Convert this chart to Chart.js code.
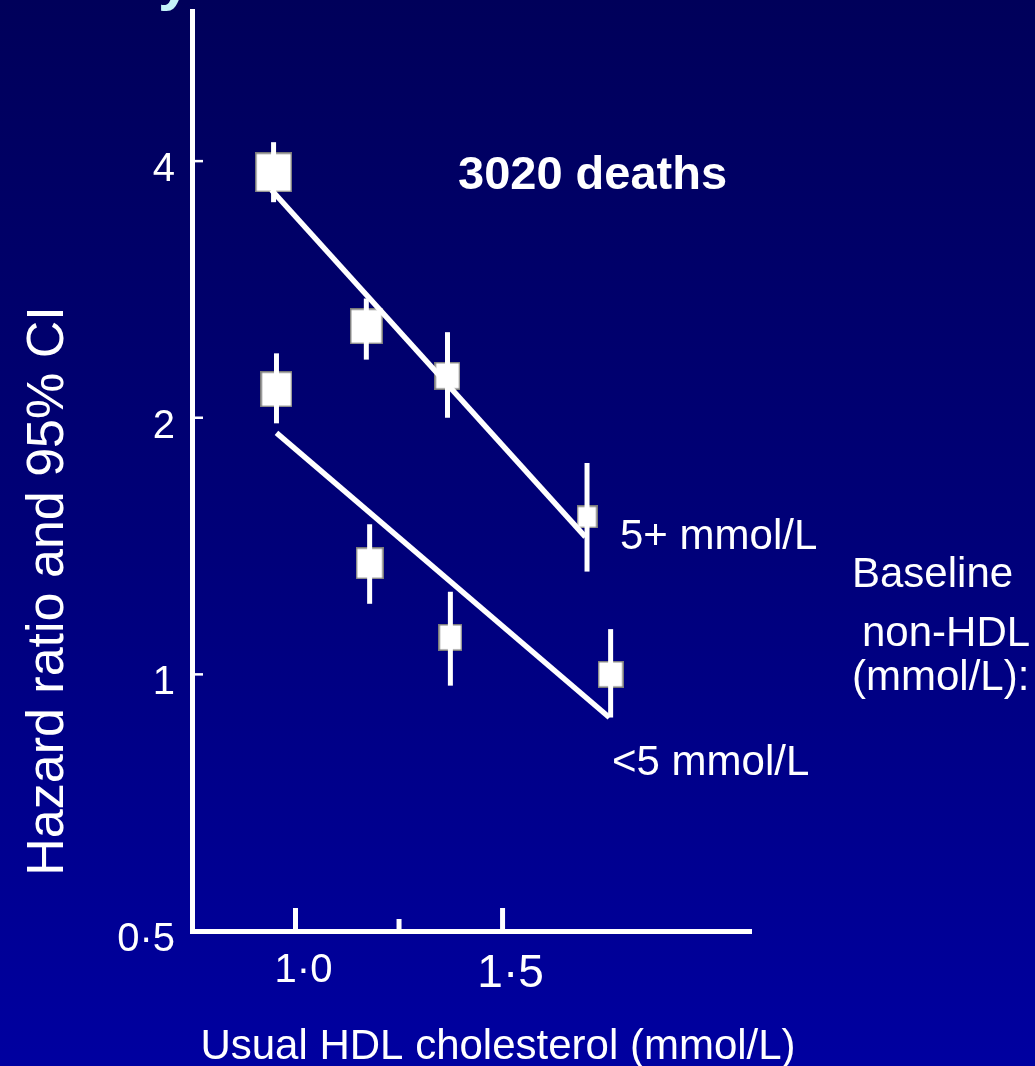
<!DOCTYPE html>
<html>
<head>
<meta charset="utf-8">
<script src="https://cdn.jsdelivr.net/npm/chart.js@4.4.0/dist/chart.umd.min.js"></script>
<style>
  html, body { margin: 0; padding: 0; }
  body {
    width: 1035px; height: 1066px; overflow: hidden;
    background: linear-gradient(to bottom, #00005a 0%, #000078 50%, #0000a0 100%);
  }
  #wrap { position: relative; width: 1035px; height: 1066px; }
</style>
</head>
<body>
<div id="wrap"><canvas id="chart"></canvas></div>
<script>
// groups (baseline non-HDL)
const groups = ['5+ mmol/L', '<5 mmol/L'];

// 5+ mmol/L group: usual HDL, hazard ratio, 95% CI
const hdlHigh = [0.947, 1.171, 1.367, 1.704];
const hrHigh  = [3.88, 2.56, 2.24, 1.53];
const loHigh  = [3.58, 2.34, 2.00, 1.32];
const hiHigh  = [4.21, 2.76, 2.52, 1.77];

// <5 mmol/L group
const hdlLow = [0.954, 1.179, 1.374, 1.761];
const hrLow  = [2.16, 1.35, 1.105, 1.00];
const loLow  = [1.97, 1.21, 0.97, 0.89];
const hiLow  = [2.38, 1.50, 1.25, 1.13];

// fitted lines (end points)
const fitHighX = [0.942, 1.700];
const fitHighY = [3.70, 1.45];
const fitLowX  = [0.954, 1.758];
const fitLowY  = [1.92, 0.89];

// axes
const xTicks = [1.0, 1.5];
const xTickLabels = ['1·0', '1·5'];
const xMinorTicks = [1.25];
const yTicks = [0.5, 1, 2, 4];
const yTickLabels = ['0·5', '1', '2', '4'];

// box sizes in px (style only)
const boxHigh = [[37, 40], [33, 36], [26, 28], [21, 23]];
const boxLow  = [[32, 36], [28, 32], [24, 27], [26, 27]];

const FONT = "'Liberation Sans', Arial, sans-serif";

function makeBox(w, h) {
    const c = document.createElement('canvas');
    c.width = w;
    c.height = h;
    const g = c.getContext('2d');
    g.fillStyle = '#ffffff';
    g.fillRect(0, 0, w, h);
    g.strokeStyle = '#7a7a7a';
    g.lineWidth = 1.5;
    g.strokeRect(0.75, 0.75, w - 1.5, h - 1.5);
    return c;
}

const toPoints = (xs, ys) => xs.map((x, i) => ({ x: x, y: ys[i] }));

// confidence intervals, drawn right after each box dataset
const ciPlugin = {
    id: 'ci',
    afterDatasetDraw(chart, args) {
        const ds = chart.data.datasets[args.index];
        if (!ds.lo) return;
        const { ctx, scales } = chart;
        ctx.save();
        ctx.strokeStyle = '#ffffff';
        ctx.lineWidth = 5;
        ctx.lineCap = 'butt';
        ds.data.forEach((p, i) => {
            const x = scales.x.getPixelForValue(p.x);
            ctx.beginPath();
            ctx.moveTo(x, scales.y.getPixelForValue(ds.hi[i]));
            ctx.lineTo(x, scales.y.getPixelForValue(ds.lo[i]));
            ctx.stroke();
        });
        ctx.restore();
    }
};

// tick marks pointing into the plot, plus the texts
const decoPlugin = {
    id: 'deco',
    afterDraw(chart) {
        const { ctx, scales, chartArea } = chart;
        ctx.save();
        ctx.strokeStyle = '#ffffff';

        ctx.lineWidth = 2.5;
        yTicks.slice(1).forEach(v => {
            const y = scales.y.getPixelForValue(v);
            ctx.beginPath();
            ctx.moveTo(chartArea.left, y);
            ctx.lineTo(chartArea.left + 11, y);
            ctx.stroke();
        });

        ctx.lineWidth = 5;
        xTicks.forEach(v => {
            const x = scales.x.getPixelForValue(v);
            ctx.beginPath();
            ctx.moveTo(x, chartArea.bottom);
            ctx.lineTo(x, chartArea.bottom - 23);
            ctx.stroke();
        });
        xMinorTicks.forEach(v => {
            const x = scales.x.getPixelForValue(v);
            ctx.beginPath();
            ctx.moveTo(x, chartArea.bottom);
            ctx.lineTo(x, chartArea.bottom - 12);
            ctx.stroke();
        });

        ctx.fillStyle = '#ffffff';
        ctx.textBaseline = 'alphabetic';
        ctx.textAlign = 'left';

        ctx.font = 'bold 47px ' + FONT;
        ctx.fillText('3020 deaths', 458, 189);

        ctx.font = '42px ' + FONT;
        ctx.fillText(groups[0], 620, 549);
        ctx.fillText(groups[1], 612, 775);

        ctx.fillText('Baseline', 852, 587);
        ctx.fillText('non-HDL', 862, 646);
        ctx.fillText('(mmol/L):', 852, 690);

        ctx.textAlign = 'center';
        ctx.fillText('Usual HDL cholesterol (mmol/L)', 498, 1059);

        ctx.save();
        ctx.translate(63, 591);
        ctx.rotate(-Math.PI / 2);
        ctx.font = '52px ' + FONT;
        ctx.fillText('Hazard ratio and 95% CI', 0, 0);
        ctx.restore();

        // cut-off title letter at the top edge
        ctx.textAlign = 'left';
        ctx.fillStyle = '#c4f2fa';
        ctx.font = 'bold 60px ' + FONT;
        ctx.fillText('y', 158, -1);

        ctx.restore();
    }
};

const ctx = document.getElementById('chart').getContext('2d');
window.myChart = new Chart(ctx, {
    type: 'scatter',
    data: {
        datasets: [
            {
                label: groups[0],
                data: toPoints(hdlHigh, hrHigh),
                lo: loHigh,
                hi: hiHigh,
                pointStyle: boxHigh.map(b => makeBox(b[0], b[1])),
                pointRadius: 10,
                showLine: false,
                order: 2
            },
            {
                label: groups[1],
                data: toPoints(hdlLow, hrLow),
                lo: loLow,
                hi: hiLow,
                pointStyle: boxLow.map(b => makeBox(b[0], b[1])),
                pointRadius: 10,
                showLine: false,
                order: 2
            },
            {
                label: 'fit ' + groups[0],
                data: toPoints(fitHighX, fitHighY),
                showLine: true,
                borderColor: '#ffffff',
                borderWidth: 5.5,
                pointRadius: 0,
                order: 1
            },
            {
                label: 'fit ' + groups[1],
                data: toPoints(fitLowX, fitLowY),
                showLine: true,
                borderColor: '#ffffff',
                borderWidth: 5.5,
                pointRadius: 0,
                order: 1
            }
        ]
    },
    options: {
        responsive: true,
        maintainAspectRatio: false,
        animation: false,
        layout: { padding: { top: 10, right: 284, left: 0, bottom: 0 } },
        plugins: {
            legend: { display: false },
            tooltip: { enabled: false }
        },
        scales: {
            x: {
                type: 'linear',
                min: 0.75,
                max: 2.1,
                afterBuildTicks: s => { s.ticks = xTicks.map(v => ({ value: v })); },
                afterFit: s => { s.height = 135; s.paddingLeft = 0; s.paddingRight = 0; },
                grid: { drawOnChartArea: false, drawTicks: false },
                border: { color: '#ffffff', width: 5 },
                ticks: {
                    color: '#ffffff',
                    autoSkip: false,
                    maxRotation: 0,
                    padding: 16,
                    labelOffset: 8,
                    font: c => ({ family: FONT, size: (c.tick && c.tick.value === 1.5) ? 46 : 40 }),
                    callback: v => xTickLabels[xTicks.indexOf(v)]
                }
            },
            y: {
                type: 'logarithmic',
                min: 0.5,
                max: 6.0,
                afterBuildTicks: s => { s.ticks = yTicks.map(v => ({ value: v })); },
                afterFit: s => { s.width = 192; s.paddingTop = 0; s.paddingBottom = 0; },
                grid: { drawOnChartArea: false, drawTicks: false },
                border: { color: '#ffffff', width: 5 },
                ticks: {
                    color: '#ffffff',
                    autoSkip: false,
                    padding: 17,
                    labelOffset: 9,
                    font: { family: FONT, size: 40 },
                    callback: v => yTickLabels[yTicks.indexOf(v)]
                }
            }
        }
    },
    plugins: [ciPlugin, decoPlugin]
});
</script>
</body>
</html>
